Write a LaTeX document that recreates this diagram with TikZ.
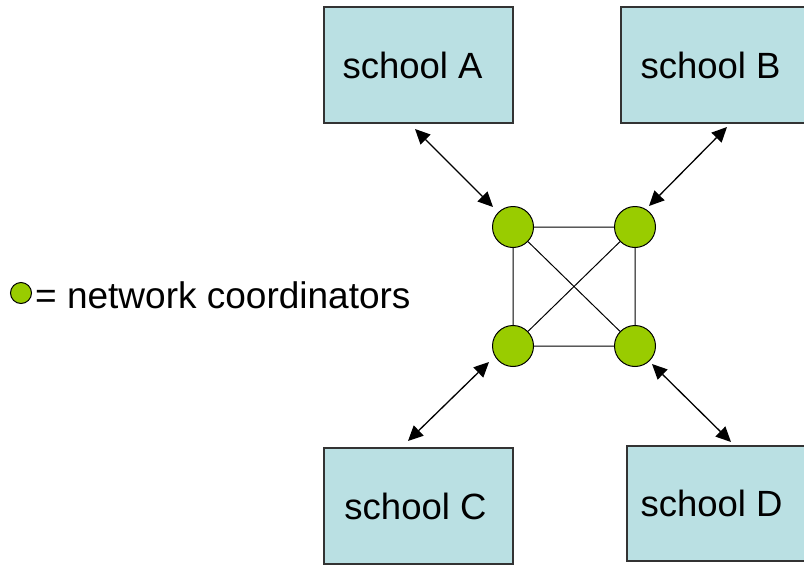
\documentclass[tikz,border=0pt]{standalone}
\usepackage{fontspec}
\setmainfont{Liberation Sans}
\usepackage{xcolor}
\definecolor{schoolcyan}{RGB}{186,224,227}
\definecolor{coordgreen}{RGB}{153,204,0}
\usetikzlibrary{arrows.meta}

\begin{document}
\begin{tikzpicture}[x=1pt,y=-1pt,>={Triangle[length=15pt,width=14pt]},
  school/.style={draw=black!80,line width=1.3pt,fill=schoolcyan,inner sep=0pt,
    font=\fontsize{36.5}{40}\selectfont},
  coord/.style={circle,draw=black,line width=1pt,fill=coordgreen,minimum size=41pt,inner sep=0pt},
  link/.style={line width=1pt}]
\useasboundingbox (0,0) rectangle (804,565);
% schools
\node[school,minimum width=189pt,minimum height=116pt] (A) at (418.5,65) {school A\rule{12pt}{0pt}};
\node[school,minimum width=185pt,minimum height=116pt] (B) at (713.5,65) {school B\rule{6pt}{0pt}};
\node[school,minimum width=189pt,minimum height=116pt] (C) at (418.5,506) {school C\rule{6pt}{0pt}};
\node[school,minimum width=179pt,minimum height=115pt] (D) at (716.5,503.5) {school D\rule{10pt}{0pt}};
% coordinators
\node[coord] (c1) at (513,227) {}; \node[coord] (c2) at (635,227) {};
\node[coord] (c3) at (513,346) {}; \node[coord] (c4) at (635,346) {};
\draw[link] (c1)--(c2) (c3)--(c4) (c1)--(c3) (c2)--(c4) (c1)--(c4) (c2)--(c3);
% arrows
\coordinate (a1) at (415,129); \coordinate (a2) at (493,207);
\coordinate (b1) at (727,127); \coordinate (b2) at (649,206);
\coordinate (d1) at (489,362); \coordinate (d2) at (408,441);
\coordinate (e1) at (652,364); \coordinate (e2) at (731,442);
\draw[link,line width=1.3pt,<->] (a1)--(a2);
\draw[link,line width=1.3pt,<->] (b1)--(b2);
\draw[link,line width=1.3pt,<->] (d1)--(d2);
\draw[link,line width=1.3pt,<->] (e1)--(e2);
% legend
\node[coord,minimum size=21pt] (key) at (21,293) {};
\node[anchor=west,inner sep=0pt,font=\fontsize{37}{40}\selectfont] (keytext) at (35,295) {= network coordinators};
\end{tikzpicture}
\end{document}
